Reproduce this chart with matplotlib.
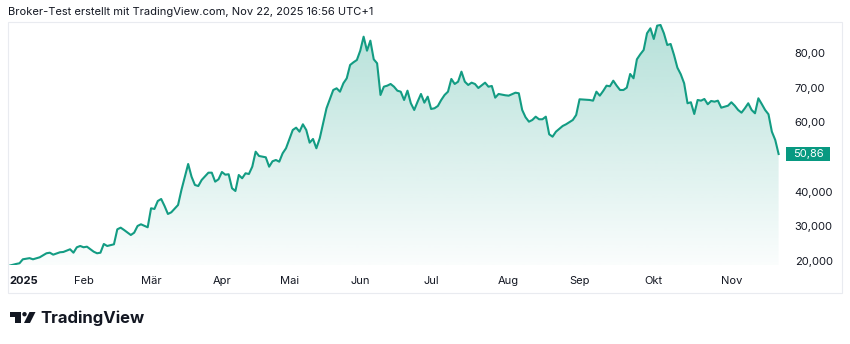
import numpy as np
import pandas as pd
import matplotlib
matplotlib.use("Agg")
import matplotlib.pyplot as plt
from matplotlib.colors import to_rgb
from matplotlib.patches import Rectangle, Polygon, Circle

plt.rcParams['font.family'] = ['Inter', 'DejaVu Sans']

# session index (trading day since 2 Jan 2025) and close price
days = [0, 2, 3, 4, 6, 7, 9, 11, 12, 13, 15, 16, 18, 19, 20, 21, 22, 23, 25, 26,
        27, 28, 29, 31, 32, 33, 34, 36, 37, 38, 39, 41, 42, 43, 44, 45, 46, 47, 48, 50,
        51, 53, 54, 55, 56, 57, 59, 60, 61, 62, 63, 64, 65, 66, 67, 68, 69, 70, 71, 72,
        73, 74, 76, 77, 78, 79, 80, 81, 82, 84, 85, 86, 87, 88, 89, 90, 91, 92, 93, 94,
        96, 97, 98, 99, 100, 101, 102, 103, 104, 105, 106, 107, 108, 109, 110, 111, 112, 113, 114, 115,
        116, 117, 118, 119, 120, 121, 122, 123, 124, 125, 126, 127, 128, 129, 130, 131, 132, 133, 134, 135,
        136, 137, 138, 139, 141, 142, 143, 144, 145, 147, 148, 150, 151, 152, 153, 154, 155, 156, 157, 158,
        159, 160, 161, 162, 164, 165, 167, 168, 169, 172, 173, 174, 175, 176, 177, 178, 179, 180, 181, 182,
        183, 184, 185, 186, 187, 188, 189, 190, 191, 192, 193, 194, 195, 196, 197, 198, 199, 200, 201, 202,
        203, 204, 205, 206, 207, 208, 209, 210, 211, 213, 214, 215, 216, 217, 218, 219, 220, 221, 222, 223,
        224, 225, 226, 227, 228]
price = [18.55, 19.05, 19.25, 20.40, 20.73, 20.40, 20.98, 22.14, 22.31, 21.74, 22.43, 22.52, 23.30, 22.31, 23.88, 24.25, 23.88, 24.05, 22.60, 22.14,
         22.31, 24.83, 24.25, 24.74, 29.08, 29.55, 28.88, 27.43, 28.10, 30.04, 30.53, 29.66, 35.16, 34.96, 37.27, 37.85, 35.82, 33.51, 34.00, 36.11,
         40.45, 47.97, 44.30, 41.90, 41.60, 43.35, 45.46, 45.46, 42.86, 43.55, 45.66, 44.88, 45.00, 40.95, 40.16, 44.79, 43.84, 45.28, 45.08, 47.19,
         51.53, 50.29, 49.91, 47.19, 48.76, 49.13, 48.64, 51.07, 52.52, 57.81, 58.48, 57.32, 59.46, 57.81, 54.14, 55.21, 52.52, 55.41, 59.75, 64.09,
         69.38, 69.87, 68.89, 71.32, 72.77, 76.62, 77.40, 78.06, 80.75, 84.80, 80.75, 83.65, 78.26, 77.10, 67.94, 70.34, 70.63, 71.12, 70.34, 69.18,
         68.89, 66.49, 69.18, 65.54, 63.60, 66.00, 68.23, 65.71, 67.45, 63.89, 64.09, 64.75, 66.49, 67.94, 68.89, 72.57, 71.12, 71.78, 74.68, 71.78,
         70.83, 71.50, 71.12, 69.96, 71.50, 70.34, 70.54, 67.16, 68.23, 67.85, 67.74, 68.60, 68.43, 63.60, 61.49, 60.21, 60.70, 61.66, 60.91, 60.91,
         61.66, 56.57, 55.87, 57.32, 58.97, 59.46, 60.70, 62.15, 66.69, 66.49, 66.29, 68.89, 67.74, 69.09, 70.63, 70.45, 72.07, 70.63, 69.38, 69.38,
         70.05, 74.01, 72.77, 78.26, 79.71, 80.96, 85.79, 87.23, 84.14, 87.99, 88.19, 85.79, 82.40, 82.69, 79.51, 75.84, 73.93, 71.32, 65.54, 65.83,
         62.44, 66.49, 66.29, 66.78, 65.25, 66.20, 66.00, 66.29, 64.26, 64.84, 65.83, 64.84, 63.60, 62.82, 64.09, 65.54, 63.60, 62.64, 66.98, 65.33,
         63.60, 62.35, 57.32, 54.92, 50.86]

holidays = ["2025-04-18", "2025-04-21", "2025-05-01"]
month_labels = ["2025", "Feb", "Mär", "Apr", "Mai", "Jun", "Jul", "Aug", "Sep", "Okt", "Nov"]
price_ticks = [20, 30, 40, 60, 70, 80]
price_tick_labels = ["20,000", "30,000", "40,000", "60,00", "70,00", "80,00"]
last_label = "50,86"
title = "Broker-Test erstellt mit TradingView.com, Nov 22, 2025 16:56 UTC+1"

GREEN = "#089981"
LINE = "#139c83"
TEXT = "#131722"

sessions = pd.bdate_range("2025-01-02", "2025-11-21", freq="C", holidays=holidays)
month_start = np.flatnonzero(np.r_[True, sessions.month[1:] != sessions.month[:-1]])

W, H = 850, 344
fig = plt.figure(figsize=(W / 100, H / 100), dpi=100)

# price pane: x 8..783 px, y 22..265 px from the top
ax = fig.add_axes([8 / W, 1 - 265 / H, 775 / W, 243 / H])
x0, x1 = -0.4, 229.3
y0, y1 = 18.75, 89.05
ax.set_xlim(x0, x1)
ax.set_ylim(y0, y1)
for s in ax.spines.values():
    s.set_visible(False)

# area fill: vertical gradient clipped to the region under the line
grad = np.zeros((256, 1, 4))
grad[..., :3] = to_rgb(GREEN)
grad[:, 0, 3] = np.linspace(0.02, 0.30, 256)
im = ax.imshow(grad, extent=[x0, x1, y0, max(price)], origin="lower",
               aspect="auto", interpolation="bilinear", zorder=1)
area = ax.fill_between(days, price, y0, facecolor="none", lw=0)
im.set_clip_path(area.get_paths()[0], ax.transData)

ax.plot(days, price, color=LINE, lw=1.5, solid_joinstyle="round", zorder=3)

# time scale
ax.set_xticks(month_start)
ax.set_xticklabels(month_labels)
ax.tick_params(axis="x", length=0, pad=8, labelsize=8, labelcolor=TEXT)
first = ax.get_xticklabels()[0]
first.set_ha("left")
first.set_fontweight("bold")

# price scale
ax.yaxis.tick_right()
ax.set_yticks(price_ticks)
ax.set_yticklabels(price_tick_labels)
ax.tick_params(axis="y", length=0, pad=8.5, labelsize=8, labelcolor=TEXT)

# overlay in pixel coordinates for frame, title, last price tag and logo
ov = fig.add_axes([0, 0, 1, 1])
ov.set_xlim(0, W)
ov.set_ylim(H, 0)
ov.axis("off")

ov.add_patch(Rectangle((8, 22), 834, 271, fill=False, ec="#e9ebf0", lw=0.8))
ov.text(8, 12, title, fontsize=8, color=TEXT, va="center", ha="left")

yc = H - ax.transData.transform((0, price[-1]))[1]
ov.add_patch(Rectangle((786, yc - 7), 44, 14, fc=GREEN, ec="none"))
ov.text(808, yc, last_label, fontsize=8, color="white", ha="center", va="center")

# TradingView logo
ov.add_patch(Polygon([(10, 312), (21, 312), (21, 323), (15.5, 323), (15.5, 316.5), (10, 316.5)],
                     closed=True, fc=TEXT, ec="none"))
ov.add_patch(Circle((24.5, 314.2), 2.2, fc=TEXT, ec="none"))
ov.add_patch(Polygon([(29.5, 312), (35.5, 312), (30, 323), (24, 323)],
                     closed=True, fc=TEXT, ec="none"))
ov.text(40, 318, "TradingView", fontsize=12, fontweight="bold", color=TEXT,
        ha="left", va="center")

fig.savefig("out.png", dpi=100)
